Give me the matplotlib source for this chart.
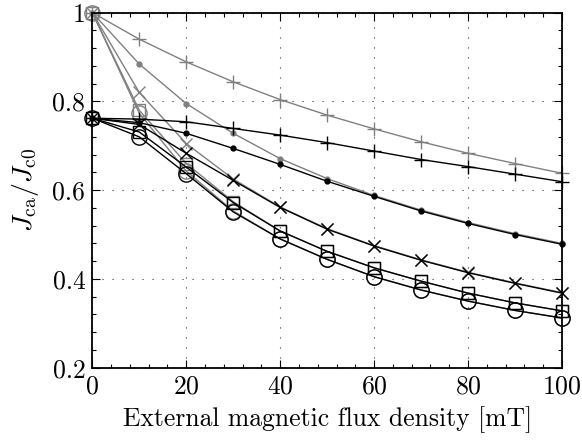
import matplotlib
matplotlib.use('Agg')
import matplotlib.pyplot as plt
from matplotlib.ticker import MultipleLocator, FormatStrFormatter, AutoMinorLocator

import numpy as np
# --------------------------------------------------------------------------------------
# Data

B = [0, 10, 20, 30, 40, 50, 60, 70, 80, 90, 100]

# gray curves (start at 1)
gPlus   = [1, 0.940, 0.889, 0.844, 0.804, 0.769, 0.738, 0.709, 0.683, 0.660, 0.638]
gDot    = [1, 0.884, 0.795, 0.728, 0.671, 0.626, 0.588, 0.555, 0.527, 0.502, 0.480]
gCross  = [1, 0.820, 0.705, 0.625, 0.562, 0.513, 0.475, 0.443, 0.415, 0.391, 0.369]
gSquare = [1, 0.780, 0.660, 0.574, 0.508, 0.462, 0.425, 0.395, 0.368, 0.346, 0.328]
gCircle = [1, 0.773, 0.643, 0.553, 0.490, 0.444, 0.405, 0.375, 0.350, 0.329, 0.312]

# black curves (start at 0.76)
bPlus   = [0.762, 0.760, 0.754, 0.739, 0.724, 0.707, 0.688, 0.669, 0.653, 0.636, 0.619]
bDot    = [0.762, 0.752, 0.728, 0.694, 0.658, 0.620, 0.586, 0.553, 0.525, 0.500, 0.478]
bCross  = [0.762, 0.748, 0.683, 0.622, 0.561, 0.512, 0.474, 0.442, 0.414, 0.390, 0.368]
bSquare = [0.762, 0.731, 0.652, 0.572, 0.508, 0.462, 0.425, 0.395, 0.368, 0.346, 0.328]
bCircle = [0.762, 0.720, 0.637, 0.551, 0.490, 0.444, 0.405, 0.375, 0.350, 0.329, 0.312]
# --------------------------------------------------------------------------------------
# Style

plt.rcParams['font.family'] = ['cmr10', 'DejaVu Serif']
plt.rcParams['mathtext.fontset'] = 'cm'
plt.rcParams['axes.formatter.use_mathtext'] = True
plt.rcParams['font.size'] = 18.5

grey = '#808080'
markers = [('+', 10, 1.0), ('o', 3.5, 0), ('x', 9, 1.0), ('s', 9, 1.0), ('o', 11, 1.0)]
# --------------------------------------------------------------------------------------
# Chart

fig = plt.figure(figsize=(5.82, 4.43), dpi=100)
ax = fig.add_axes([0.1586, 0.170, 0.8070, 0.8016])

grayData  = [gPlus, gDot, gCross, gSquare, gCircle]
blackData = [bPlus, bDot, bCross, bSquare, bCircle]

for data, col, z in [(grayData, grey, 2), (blackData, 'k', 3)]:
    for y, (m, ms, mew) in zip(data, markers):
        if ms < 5:
            ax.plot(B, y, color=col, lw=1.0, marker=m, ms=ms, mfc=col, mec=col,
                    zorder=z, clip_on=False)
        else:
            ax.plot(B, y, color=col, lw=1.0, marker=m, ms=ms, mfc='none', mec=col,
                    mew=mew, zorder=z, clip_on=False)

for sp in ax.spines.values():
    sp.set_linewidth(1.3)

ax.grid(True, which='major', linestyle=(0, (1, 8)), color='k', linewidth=0.8, alpha=0.8)

# x
ax.set_xlim([0, 100])
ax.xaxis.set_major_locator(MultipleLocator(20))
ax.xaxis.set_minor_locator(AutoMinorLocator(5))
ax.set_xlabel('External magnetic flux density [mT]', labelpad=6)

# y
ax.set_ylim([0.2, 1])
ax.yaxis.set_major_locator(MultipleLocator(0.2))
ax.yaxis.set_minor_locator(AutoMinorLocator(5))
ax.yaxis.set_major_formatter(FormatStrFormatter('%g'))
ax.set_ylabel(r'$J_{\mathrm{ca}}/J_{\mathrm{c0}}$', fontsize=20, labelpad=8)

ax.tick_params(which='both', direction='in', top=True, right=True, width=0.8)
ax.tick_params(which='major', length=6, labelsize=18.5, pad=5)
ax.tick_params(which='minor', length=3)

fig.savefig('out.png', dpi=100)
